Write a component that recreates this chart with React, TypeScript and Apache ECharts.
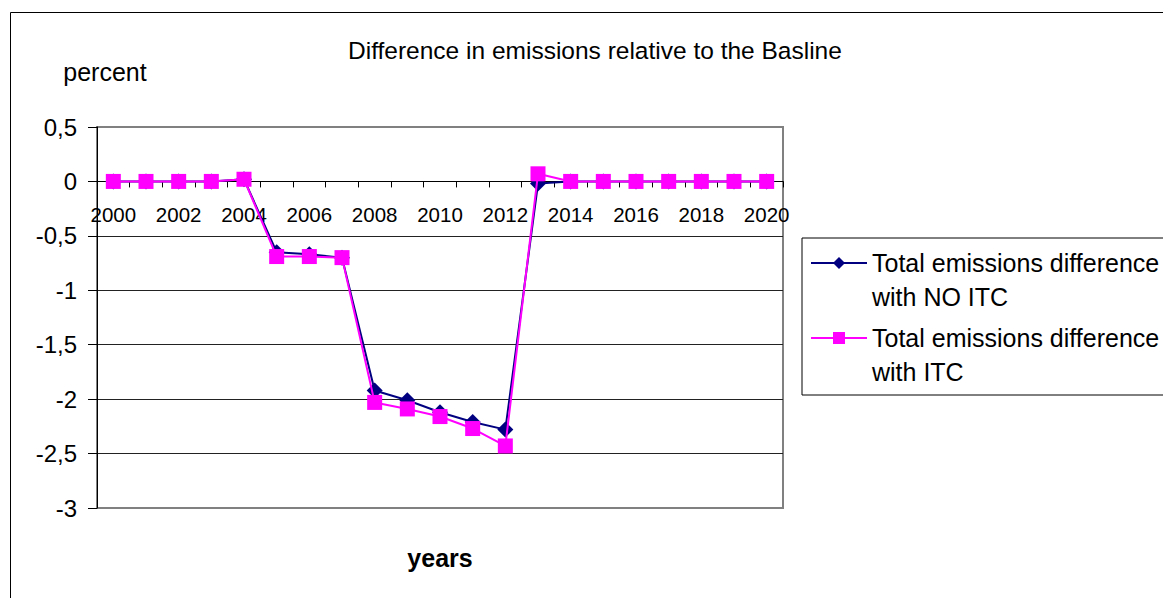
import React, { useEffect, useRef } from "react";
import * as echarts from "echarts";

const years = ["2000","2001","2002","2003","2004","2005","2006","2007","2008","2009","2010","2011","2012","2013","2014","2015","2016","2017","2018","2019","2020"];
const noItc = [0, 0, 0, 0, 0.02, -0.65, -0.67, -0.7, -1.92, -2.01, -2.12, -2.21, -2.28, -0.02, 0, 0, 0, 0, 0, 0, 0];
const withItc = [0, 0, 0, 0, 0.02, -0.69, -0.69, -0.7, -2.03, -2.09, -2.16, -2.27, -2.43, 0.07, 0, 0, 0, 0, 0, 0, 0];
const seriesNames = ["Total emissions difference with NO ITC", "Total emissions difference with ITC"];
const titleText = "Difference in emissions relative to the Basline";
const yName = "percent";
const xName = "years";
const yMin = -3;
const yMax = 0.5;
const yStep = 0.5;

const FONT = "'Liberation Sans', Arial, Helvetica, sans-serif";
const GRID_TOP = 127;
const GRID_BOTTOM = 90;
const H = 598;

export default function App() {
  const ref = useRef<HTMLDivElement>(null);
  useEffect(() => {
    document.body.style.margin = "0";
    const chart = echarts.init(ref.current!, undefined, { renderer: "svg" });
    const plotH = H - GRID_TOP - GRID_BOTTOM;
    // distance from bottom of plot to the zero line
    const zeroOffset = (plotH * (0 - yMin)) / (yMax - yMin);
    chart.setOption({
      animation: false,
      backgroundColor: "#fff",
      textStyle: { fontFamily: FONT, color: "#000" },
      title: {
        text: titleText,
        left: 343,
        top: 33,
        textStyle: { fontFamily: FONT, fontSize: 24.5, fontWeight: "normal", color: "#000" },
      },
      graphic: [
        {
          type: "rect",
          shape: { x: 10.5, y: 12.5, width: 1400, height: 800 },
          style: { fill: "none", stroke: "#000", lineWidth: 1 },
          silent: true,
        },
      ],
      grid: {
        left: 97,
        right: 380,
        top: GRID_TOP,
        bottom: GRID_BOTTOM,
        show: true,
        borderColor: "#808080",
        borderWidth: 2,
        backgroundColor: "#fff",
        containLabel: false,
        outerBoundsMode: "none",
      },
      legend: {
        orient: "vertical",
        left: 802,
        top: 238,
        padding: [-26, 20, 6, 8],
        borderColor: "#000",
        borderWidth: 1,
        itemWidth: 56,
        itemHeight: 15,
        itemGap: -27,
        formatter: (n: string) => "\n" + n.replace(" with", "\nwith"),
        textStyle: { fontFamily: FONT, fontSize: 25, lineHeight: 34, color: "#000" },
        data: seriesNames,
      },
      xAxis: {
        type: "category",
        data: years,
        boundaryGap: true,
        position: "bottom",
        offset: -zeroOffset,
        name: xName,
        nameLocation: "middle",
        nameGap: 364,
        nameTextStyle: { fontFamily: FONT, fontSize: 25, fontWeight: "bold", color: "#000" },
        axisLine: { onZero: false, lineStyle: { color: "#000", width: 1 } },
        axisTick: { show: true, interval: 0, length: 6, lineStyle: { color: "#000" } },
        axisLabel: { interval: 1, fontFamily: FONT, fontSize: 20.5, color: "#000", margin: 23 },
        splitLine: { show: false },
      },
      yAxis: {
        type: "value",
        min: yMin,
        max: yMax,
        interval: yStep,
        name: yName,
        nameLocation: "end",
        nameGap: 43,
        nameTextStyle: { fontFamily: FONT, fontSize: 25, color: "#000", padding: [0, 0, 0, 16] },
        axisLine: { show: true, lineStyle: { color: "#000", width: 1 } },
        axisTick: { show: true, length: 9, lineStyle: { color: "#000" } },
        axisLabel: {
          fontFamily: FONT,
          fontSize: 24,
          color: "#000",
          margin: 20,
          formatter: (v: number) => String(v).replace(".", ","),
        },
        splitLine: {
          show: true,
          lineStyle: {
            color: ["transparent", "#222", "#222", "#222", "#222", "#222", "#222", "transparent"],
            width: 1,
          },
        },
      },
      series: [
        {
          name: seriesNames[0],
          type: "line",
          data: noItc,
          symbol: "diamond",
          symbolSize: 16,
          itemStyle: { color: "#000080" },
          lineStyle: { color: "#000080", width: 2 },
          z: 3,
        },
        {
          name: seriesNames[1],
          type: "line",
          data: withItc,
          symbol: "rect",
          symbolSize: 15,
          itemStyle: { color: "#FF00FF" },
          lineStyle: { color: "#FF00FF", width: 2 },
          z: 4,
        },
      ],
    });
    return () => chart.dispose();
  }, []);
  return <div ref={ref} style={{ position: "fixed", left: 0, top: 0, width: 1163, height: 598 }} />;
}
